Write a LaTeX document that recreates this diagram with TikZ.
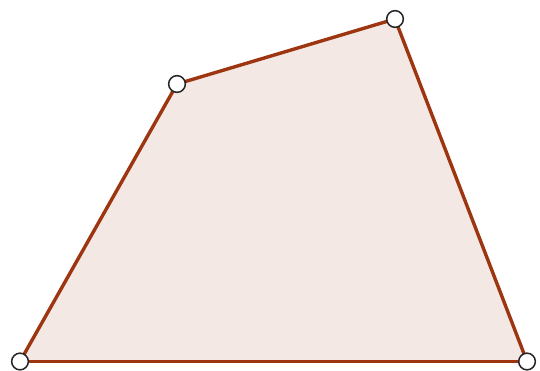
\documentclass[tikz,border=0pt]{standalone}
\usepackage{xcolor}
\usetikzlibrary{
positioning,
calc
}
\definecolor{edgebrown}{HTML}{9C3510}
\definecolor{facepink}{HTML}{F3E8E3}
\tikzset{
vertex/.style={
circle,
draw=black!85,
fill=white,
line width=1.3pt,
inner sep=0pt,
minimum size=0.5cm
},
edge/.style={
draw=edgebrown,
line width=2.9pt,
line join=round
}
}

\begin{document}
\begin{tikzpicture}[x=0.03cm,y=-0.03cm]
\useasboundingbox (0,0) rectangle (540,371);
\coordinate (pa) at (20,361.5);
\coordinate (pb) at (177,84);
\coordinate (pc) at (395,19);
\coordinate (pd) at (527,361.5);

\fill[facepink] (pa) -- (pb) -- (pc) -- (pd) -- cycle;
\draw[edge] (pa) -- (pb);
\draw[edge] (pb) -- (pc);
\draw[edge] (pc) -- (pd);
\draw[edge] (pd) -- (pa);

\node[vertex] (va) at (pa) {};
\node[vertex] (vb) at (pb) {};
\node[vertex] (vc) at (pc) {};
\node[vertex] (vd) at (pd) {};
\end{tikzpicture}
\end{document}
